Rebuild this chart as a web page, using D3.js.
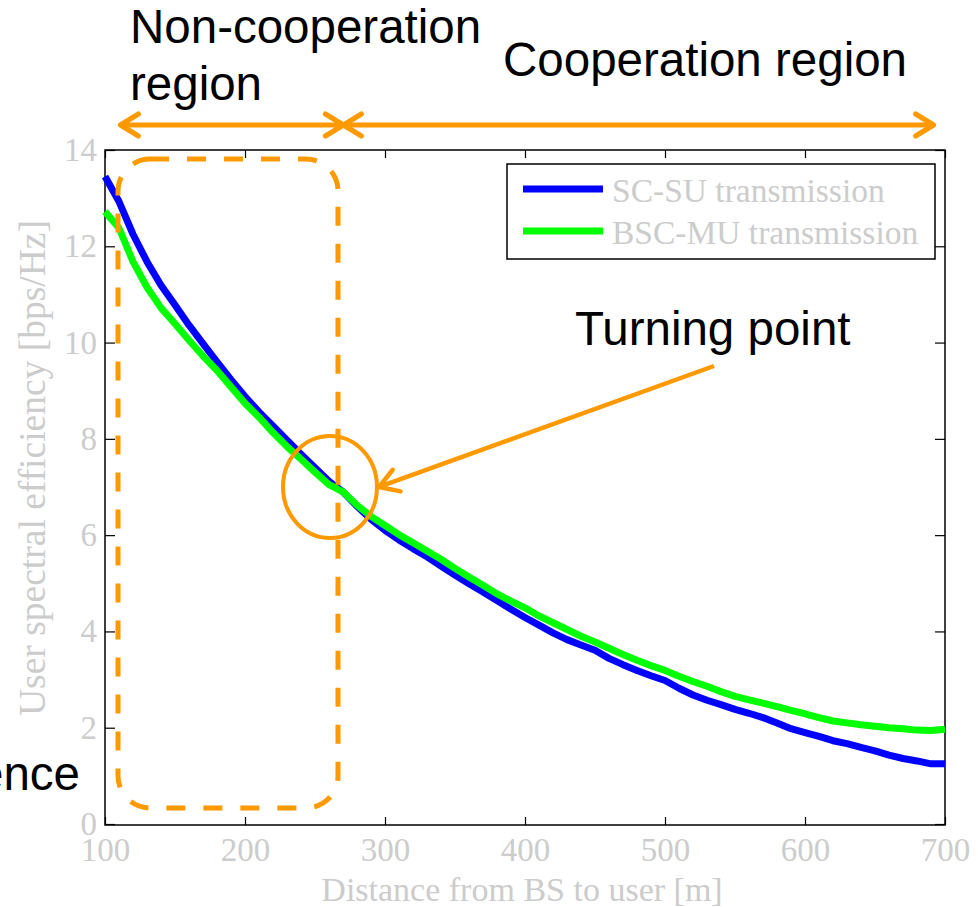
<!DOCTYPE html>
<html>
<head>
<meta charset="utf-8">
<script src="https://cdn.jsdelivr.net/npm/d3@7"></script>
<style>
  html, body { margin: 0; padding: 0; background: #fff; }
  svg { display: block; }
</style>
</head>
<body>
<svg id="chart" width="978" height="907"></svg>
<script>
// ---- data ----
const distances = d3.range(100, 701, 10);
const scsuValues = [13.45, 12.93, 12.25, 11.68, 11.19, 10.78, 10.36, 9.98, 9.60, 9.23,
  8.88, 8.56, 8.27, 7.97, 7.68, 7.40, 7.12, 6.90, 6.60, 6.33,
  6.10, 5.90, 5.72, 5.55, 5.36, 5.17, 4.99, 4.82, 4.64, 4.46,
  4.29, 4.13, 3.97, 3.83, 3.72, 3.61, 3.44, 3.31, 3.19, 3.08,
  2.98, 2.82, 2.68, 2.57, 2.48, 2.38, 2.30, 2.21, 2.10, 1.98,
  1.90, 1.82, 1.73, 1.67, 1.59, 1.52, 1.43, 1.36, 1.31, 1.25, 1.25];
const bscmuValues = [12.72, 12.38, 11.68, 11.15, 10.72, 10.39, 10.05, 9.72, 9.42, 9.08,
  8.74, 8.45, 8.13, 7.84, 7.58, 7.31, 7.05, 6.90, 6.62, 6.39,
  6.20, 6.01, 5.84, 5.67, 5.50, 5.31, 5.13, 4.96, 4.78, 4.63,
  4.49, 4.32, 4.18, 4.04, 3.90, 3.78, 3.65, 3.52, 3.40, 3.29,
  3.19, 3.07, 2.96, 2.86, 2.75, 2.65, 2.58, 2.51, 2.44, 2.36,
  2.29, 2.21, 2.14, 2.10, 2.06, 2.03, 2.00, 1.98, 1.95, 1.94, 1.97];
const seriesNames = ["SC-SU transmission", "BSC-MU transmission"];
const seriesColors = ["#0000ff", "#00ff00"];
const xTicks = [100, 200, 300, 400, 500, 600, 700];
const yTicks = [0, 2, 4, 6, 8, 10, 12, 14];
const xLabel = "Distance from BS to user [m]";
const yLabel = "User spectral efficiency [bps/Hz]";
// annotation regions (in data units of distance)
const nonCoopRange = [101, 271];
const coopRange = [271, 694];
const turningPoint = {x: 260, y: 6.98};

// ---- layout ----
const svg = d3.select("#chart");
const L = 105, R = 945, T = 150, B = 825;
const x = d3.scaleLinear().domain([100, 700]).range([L, R]);
const y = d3.scaleLinear().domain([0, 14]).range([824, T]);
const gray = "#cccccc";
const orange = "#ff9900";
const serif = "'Liberation Serif', 'Times New Roman', serif";
const sans = "'Liberation Sans', Arial, sans-serif";

// frame
svg.append("rect").attr("x", L).attr("y", T).attr("width", R - L).attr("height", B - T)
  .attr("fill", "none").attr("stroke", "#000").attr("stroke-width", 1.5);

function styleAxis(g) {
  g.select(".domain").remove();
  g.selectAll(".tick line").attr("stroke", "#000").attr("stroke-width", 1.2);
  g.selectAll(".tick text").attr("fill", gray).style("font-family", serif).style("font-size", "33px");
}
svg.append("g").attr("transform", `translate(0,${B})`)
  .call(d3.axisBottom(x).tickValues(xTicks).tickSize(-8).tickPadding(13).tickFormat(d3.format("d")))
  .call(styleAxis);
svg.append("g").attr("transform", `translate(0,${T})`)
  .call(d3.axisTop(x).tickValues(xTicks).tickSize(-8).tickFormat(""))
  .call(styleAxis);
svg.append("g").attr("transform", `translate(${L},0)`)
  .call(d3.axisLeft(y).tickValues(yTicks).tickSize(-10).tickPadding(8).tickFormat(d3.format("d")))
  .call(styleAxis);
svg.append("g").attr("transform", `translate(${R},0)`)
  .call(d3.axisRight(y).tickValues(yTicks).tickSize(-10).tickFormat(""))
  .call(styleAxis);

// axis titles
svg.append("text").attr("x", (L + R) / 2 - 3).attr("y", 901).attr("text-anchor", "middle")
  .attr("fill", gray).style("font-family", serif).style("font-size", "34px").text(xLabel);
svg.append("text").attr("transform", `translate(45,468) rotate(-90)`)
  .attr("text-anchor", "middle")
  .attr("fill", gray).style("font-family", serif).style("font-size", "37.5px").text(yLabel);

// lines
const line = d3.line().x((d, i) => x(distances[i])).y(d => y(d));
[scsuValues, bscmuValues].forEach((vals, k) => {
  svg.append("path").datum(vals).attr("d", line)
    .attr("fill", "none").attr("stroke", seriesColors[k]).attr("stroke-width", 7)
    .attr("stroke-linejoin", "round");
});

// legend
const lg = svg.append("g");
lg.append("rect").attr("x", 507).attr("y", 164).attr("width", 428).attr("height", 95)
  .attr("fill", "#fff").attr("stroke", "#000").attr("stroke-width", 1.5);
seriesNames.forEach((name, k) => {
  const cy = 189 + k * 42;
  lg.append("line").attr("x1", 523).attr("x2", 603).attr("y1", cy).attr("y2", cy)
    .attr("stroke", seriesColors[k]).attr("stroke-width", 7);
  lg.append("text").attr("x", 612).attr("y", cy + 13).attr("fill", gray)
    .style("font-family", serif).style("font-size", "33.5px").text(name);
});

// annotations
const ann = svg.append("g");
function chevron(tipX, tipY, dir) {
  ann.append("path")
    .attr("d", `M${tipX + dir * 18},${tipY - 11} L${tipX},${tipY} L${tipX + dir * 18},${tipY + 11}`)
    .attr("fill", "none").attr("stroke", orange).attr("stroke-width", 5)
    .attr("stroke-linecap", "round").attr("stroke-linejoin", "round");
}
function doubleArrow(x1, x2, yy) {
  ann.append("line").attr("x1", x1).attr("x2", x2).attr("y1", yy).attr("y2", yy)
    .attr("stroke", orange).attr("stroke-width", 5);
  chevron(x1, yy, 1);
  chevron(x2, yy, -1);
}
doubleArrow(x(nonCoopRange[0]) + 14, x(nonCoopRange[1]) - 1, 125);
doubleArrow(x(coopRange[0]) - 1, x(coopRange[1]) - 3, 125);

// dashed rounded rectangle (non-cooperation region)
ann.append("rect").attr("x", 118).attr("y", 159).attr("width", 220).attr("height", 649)
  .attr("rx", 32).attr("ry", 32)
  .attr("fill", "none").attr("stroke", orange).attr("stroke-width", 5)
  .attr("stroke-dasharray", "19,18");

// turning point ellipse
const cx = x(turningPoint.x) + 1, cyy = y(turningPoint.y) - 1;
ann.append("ellipse").attr("cx", cx).attr("cy", cyy).attr("rx", 47).attr("ry", 51)
  .attr("fill", "none").attr("stroke", orange).attr("stroke-width", 4);

// arrow pointing to the turning point
const tip = [cx + 49, cyy];
const tail = [714, 366];
ann.append("line").attr("x1", tail[0]).attr("y1", tail[1]).attr("x2", tip[0]).attr("y2", tip[1])
  .attr("stroke", orange).attr("stroke-width", 4.5);
const ang = Math.atan2(tail[1] - tip[1], tail[0] - tip[0]);
const hl = 22, ha = 0.55;
ann.append("path")
  .attr("d", `M${tip[0] + hl * Math.cos(ang + ha)},${tip[1] + hl * Math.sin(ang + ha)} L${tip[0]},${tip[1]} L${tip[0] + hl * Math.cos(ang - ha)},${tip[1] + hl * Math.sin(ang - ha)}`)
  .attr("fill", "none").attr("stroke", orange).attr("stroke-width", 4.5)
  .attr("stroke-linecap", "round").attr("stroke-linejoin", "round");

// texts
const txt = (s, xx, yy, anchor) => svg.append("text").attr("x", xx).attr("y", yy)
  .attr("text-anchor", anchor || "start").attr("fill", "#000")
  .style("font-family", sans).style("font-size", "47.5px").text(s);
txt("Non-cooperation", 130, 43);
txt("region", 130, 100);
txt("Cooperation region", 503, 76);
txt("Turning point", 575, 345);
txt("ence", 80, 790, "end");
</script>
</body>
</html>
